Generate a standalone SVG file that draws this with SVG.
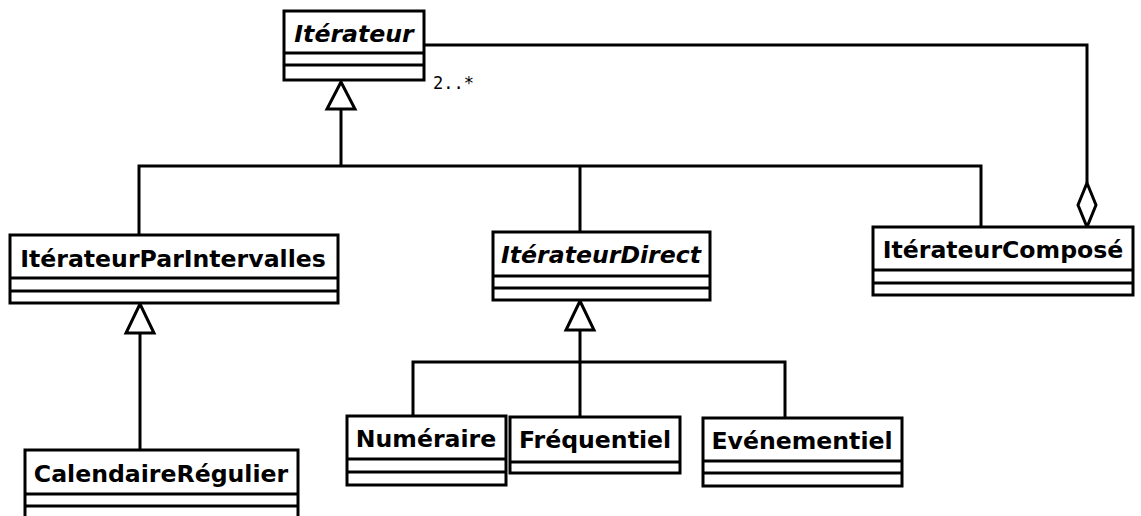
<svg xmlns="http://www.w3.org/2000/svg" width="1141" height="516" viewBox="0 0 1141 516">
<style>
.box{fill:#fff;stroke:#000;stroke-width:3}
.sep{stroke:#000;stroke-width:3}
.name{font-family:"DejaVu Sans",sans-serif;font-weight:bold;font-size:23.6px;fill:#000;text-anchor:middle}
.abs{font-style:italic}
.ln{fill:none;stroke:#000;stroke-width:3}
.tri{fill:#fff;stroke:#000;stroke-width:3;stroke-linejoin:miter}
.lbl{font-family:"DejaVu Sans Mono",monospace;font-size:17px;fill:#000}
</style>
<rect width="1141" height="516" fill="#fff"/>
<g id="connectors">
<polyline class="ln" points="341,109 341,166"/>
<polyline class="ln" points="139,235 139,166 981,166 981,227"/>
<polyline class="ln" points="580,166 580,232"/>
<polygon class="tri" points="341,82 327,109 355,109"/>
<polyline class="ln" points="424,45 1087,45 1087,183"/>
<polygon class="tri" points="1087,183 1096,205 1087,227 1078,205"/>
<polyline class="ln" points="140,333 140,450"/>
<polygon class="tri" points="140,304 126,333 154,333"/>
<polyline class="ln" points="580,330 580,417"/>
<polyline class="ln" points="413,416 413,362 785,362 785,418"/>
<polygon class="tri" points="580,301 566,330 594,330"/>
<text class="lbl" x="433" y="89">2..*</text>
</g>
<g id="iterateur">
<rect class="box" x="284" y="11" width="140" height="69"/>
<line class="sep" x1="284" y1="53" x2="424" y2="53"/>
<line class="sep" x1="284" y1="65" x2="424" y2="65"/>
<text class="name abs" x="354" y="42">Itérateur</text>
</g>
<g id="iterateurParIntervalles">
<rect class="box" x="10" y="235" width="328" height="68"/>
<line class="sep" x1="10" y1="278" x2="338" y2="278"/>
<line class="sep" x1="10" y1="291" x2="338" y2="291"/>
<text class="name" x="173" y="267">ItérateurParIntervalles</text>
</g>
<g id="iterateurDirect">
<rect class="box" x="493" y="232" width="217" height="68"/>
<line class="sep" x1="493" y1="276" x2="710" y2="276"/>
<line class="sep" x1="493" y1="288" x2="710" y2="288"/>
<text class="name abs" x="601" y="263">ItérateurDirect</text>
</g>
<g id="iterateurCompose">
<rect class="box" x="873" y="227" width="260" height="68"/>
<line class="sep" x1="873" y1="270" x2="1133" y2="270"/>
<line class="sep" x1="873" y1="283" x2="1133" y2="283"/>
<text class="name" x="1003" y="258">ItérateurComposé</text>
</g>
<g id="numeraire">
<rect class="box" x="347" y="416" width="159" height="69"/>
<line class="sep" x1="347" y1="459" x2="506" y2="459"/>
<line class="sep" x1="347" y1="472" x2="506" y2="472"/>
<text class="name" x="426" y="447">Numéraire</text>
</g>
<g id="frequentiel">
<rect class="box" x="510" y="417" width="170" height="56"/>
<line class="sep" x1="510" y1="462" x2="680" y2="462"/>
<text class="name" x="595" y="448">Fréquentiel</text>
</g>
<g id="evenementiel">
<rect class="box" x="703" y="418" width="199" height="68"/>
<line class="sep" x1="703" y1="461" x2="902" y2="461"/>
<line class="sep" x1="703" y1="473" x2="902" y2="473"/>
<text class="name" x="802" y="449">Evénementiel</text>
</g>
<g id="calendaireRegulier">
<rect class="box" x="25" y="450" width="273" height="80"/>
<line class="sep" x1="25" y1="494" x2="298" y2="494"/>
<line class="sep" x1="25" y1="506" x2="298" y2="506"/>
<text class="name" x="161" y="482">CalendaireRégulier</text>
</g>
</svg>
